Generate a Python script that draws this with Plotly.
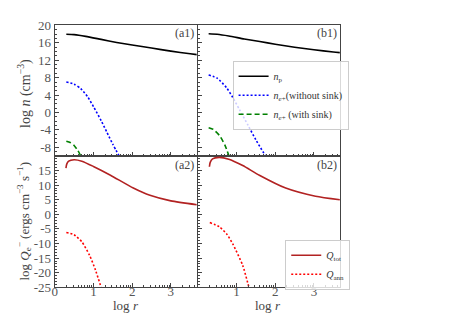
import plotly.graph_objects as go
from plotly.subplots import make_subplots
import math

# ---------------- data ----------------
# (a1)
a1_np_x = [0.30, 0.5, 0.8, 1.2, 1.6, 2.0, 2.5, 3.0, 3.5, 3.67]
a1_np_y = [18.0, 17.9, 17.5, 16.8, 16.1, 15.5, 14.8, 14.1, 13.5, 13.3]
a1_ns_x = [0.30, 0.5, 0.67, 0.85, 1.01, 1.2, 1.35, 1.5, 1.68]
a1_ns_y = [7.0, 6.5, 5.5, 3.6, 1.2, -1.9, -4.6, -7.3, -10.3]
a1_ws_x = [0.30, 0.4, 0.5, 0.6, 0.7]
a1_ws_y = [-6.6, -6.9, -7.6, -8.8, -10.5]
# (b1)
b1_np_x = [0.28, 0.5, 0.8, 1.2, 1.6, 2.0, 2.5, 3.0, 3.5, 3.67]
b1_np_y = [18.1, 18.0, 17.6, 16.9, 16.3, 15.7, 15.0, 14.4, 13.9, 13.75]
b1_ns_x = [0.28, 0.5, 0.74, 0.9, 1.08, 1.3, 1.5, 1.77]
b1_ns_y = [8.6, 7.9, 5.7, 3.5, 0.6, -3.0, -6.3, -10.3]
b1_ws_x = [0.28, 0.4, 0.56, 0.7, 0.82]
b1_ws_y = [-3.5, -3.9, -5.3, -7.5, -10.4]
# (a2)
a2_tot_x = [0.29, 0.31, 0.36, 0.5, 0.7, 1.0, 1.44, 2.03, 2.46, 3.0, 3.67]
a2_tot_y = [15.8, 17.2, 18.2, 18.7, 18.2, 16.4, 13.4, 9.0, 6.5, 4.6, 3.3]
a2_ann_x = [0.30, 0.5, 0.7, 0.9, 1.05, 1.21]
a2_ann_y = [-6.2, -7.0, -9.4, -14.0, -19.0, -25.5]
# (b2)
b2_tot_x = [0.30, 0.32, 0.38, 0.55, 0.8, 1.16, 1.59, 2.27, 3.04, 3.67]
b2_tot_y = [16.3, 17.8, 19.0, 19.5, 18.9, 16.7, 13.4, 9.0, 6.2, 5.0]
b2_ann_x = [0.31, 0.56, 0.75, 0.91, 1.16, 1.33]
b2_ann_y = [-2.8, -4.3, -6.8, -10.3, -17.5, -25.5]

x_ticks = [0, 1, 2, 3]
top_ticks = [20, 16, 12, 8, 4, 0, -4, -8]
bot_ticks = [15, 10, 5, 0, -5, -10, -15, -20, -25]

FONT = "Liberation Serif"
W, H = 471, 314

fig = make_subplots(rows=2, cols=2, horizontal_spacing=0, vertical_spacing=0)

def add(x, y, row, col, color, dash, name=None, legend=None, show=False):
    fig.add_trace(go.Scatter(x=x, y=y, mode="lines",
                             line=dict(color=color, dash=dash, width=1.6, shape="spline", smoothing=0.6),
                             name=name, showlegend=show, legend=legend), row=row, col=col)

DOT = "2px,2px"
DASH = "5px,3px"
add(a1_np_x, a1_np_y, 1, 1, "black", "solid")
add(a1_ns_x, a1_ns_y, 1, 1, "blue", DOT)
add(a1_ws_x, a1_ws_y, 1, 1, "green", DASH)
add(b1_np_x, b1_np_y, 1, 2, "black", "solid", "<i>n</i><sub>p</sub>", "legend", True)
add(b1_ns_x, b1_ns_y, 1, 2, "blue", DOT, "<i>n</i><sub><i>e</i>+</sub>(without sink)", "legend", True)
add(b1_ws_x, b1_ws_y, 1, 2, "green", DASH, "<i>n</i><sub><i>e</i>+</sub> (with sink)", "legend", True)
add(a2_tot_x, a2_tot_y, 2, 1, "#b22222", "solid")
add(a2_ann_x, a2_ann_y, 2, 1, "red", DOT)
add(b2_tot_x, b2_tot_y, 2, 2, "#b22222", "solid", "<i>Q</i><sub>tot</sub>", "legend2", True)
add(b2_ann_x, b2_ann_y, 2, 2, "red", DOT, "<i>Q</i><sub>ann</sub>", "legend2", True)

xl = [44 / W, 187 / W]
xr = [188 / W, 331 / W]
yt = [(H - 148) / H, (H - 11) / H]
yb = [(H - 286) / H, (H - 148) / H]

minor_x = [k + math.log10(m) for k in range(4) for m in range(2, 10) if k + math.log10(m) < 3.67]

axcommon = dict(showgrid=False, zeroline=False, showline=True, mirror=True, linecolor="#444", linewidth=1,
                ticks="inside", ticklen=4, tickcolor="#444", tickfont=dict(family=FONT, size=13, color="#555"))

for (r, c), dom in {(1, 1): xl, (1, 2): xr, (2, 1): xl, (2, 2): xr}.items():
    tv = x_ticks if c == 1 else [1, 2, 3]
    fig.update_xaxes(row=r, col=c, domain=dom, range=[0, 3.67], tickvals=tv, ticktext=[str(v) for v in tv],
                     showticklabels=(r == 2), ticklabelstandoff=-8,
                     minor=dict(tickvals=minor_x, ticks="inside", ticklen=2, tickcolor="#444"),
                     **axcommon)
for c in (1, 2):
    fig.update_yaxes(row=1, col=c, domain=yt, range=[-10, 20], tickvals=top_ticks,
                     ticktext=[str(v) for v in top_ticks], showticklabels=(c == 1),
                     minor=dict(dtick=1, ticks="inside", ticklen=2, tickcolor="#444"), **axcommon)
    fig.update_yaxes(row=2, col=c, domain=yb, range=[-25, 20], tickvals=bot_ticks,
                     ticktext=[str(v) for v in bot_ticks], showticklabels=(c == 1),
                     minor=dict(dtick=1, ticks="inside", ticklen=2, tickcolor="#444"), **axcommon)

legstyle = dict(bgcolor="rgba(255,255,255,0.8)", bordercolor="#ccc", borderwidth=1,
                font=dict(family=FONT, size=10, color="#333"),
                xanchor="left", yanchor="top", tracegroupgap=0, itemwidth=30)

ann = []
def label(text, px, py, size=13, angle=0):
    ann.append(dict(text=text, x=px / W, y=1 - py / H, xref="paper", yref="paper", showarrow=False,
                    textangle=angle, font=dict(family=FONT, size=size, color="#444"),
                    xanchor="center", yanchor="middle"))

label("(a1)", 175, 19, 12)
label("(b1)", 318, 19, 12)
label("(a2)", 175, 158, 12)
label("(b2)", 318, 158, 12)
label("log <i>r</i>", 116, 305, 13)
label("log <i>r</i>", 259, 305, 13)
label("log <i>n</i> (cm<sup>−3</sup>)", 13, 82, 14, -90)
label("log <i>Q</i><sub>e</sub><sup>−</sup> (ergs cm<sup>−3</sup> s<sup>−1</sup>)", 13, 216, 13, -90)

fig.update_layout(
    width=W, height=H, margin=dict(l=0, r=0, t=0, b=0),
    paper_bgcolor="white", plot_bgcolor="white",
    legend=dict(x=223 / W, y=1 - 48 / H, **legstyle),
    legend2=dict(x=276 / W, y=1 - 236 / H, **legstyle),
    annotations=ann,
)

fig.write_html("out.html")
